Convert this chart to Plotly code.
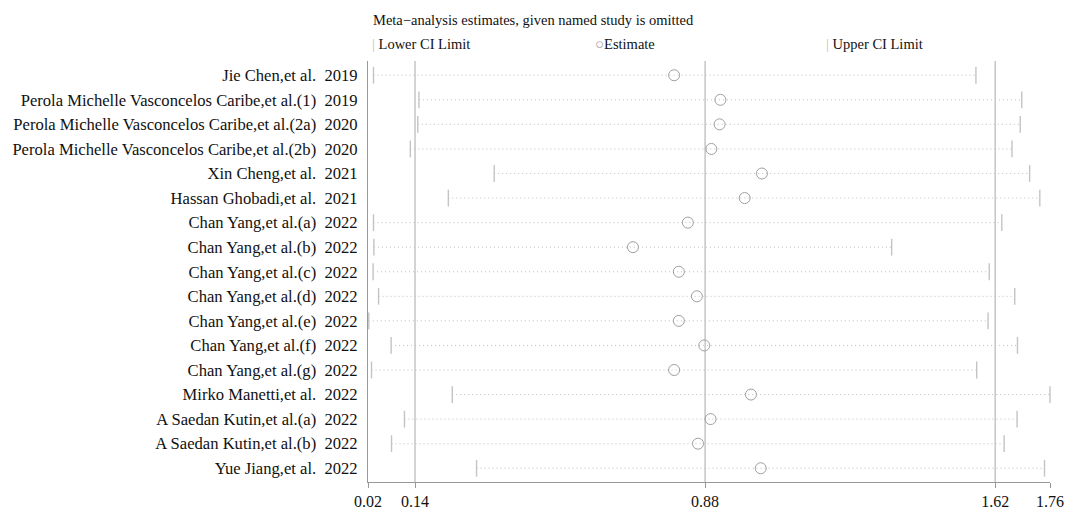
import plotly.graph_objects as go

studies = [
    "Jie Chen,et al.", "Perola Michelle Vasconcelos Caribe,et al.(1)",
    "Perola Michelle Vasconcelos Caribe,et al.(2a)", "Perola Michelle Vasconcelos Caribe,et al.(2b)",
    "Xin Cheng,et al.", "Hassan Ghobadi,et al.", "Chan Yang,et al.(a)", "Chan Yang,et al.(b)",
    "Chan Yang,et al.(c)", "Chan Yang,et al.(d)", "Chan Yang,et al.(e)", "Chan Yang,et al.(f)",
    "Chan Yang,et al.(g)", "Mirko Manetti,et al.", "A Saedan Kutin,et al.(a)",
    "A Saedan Kutin,et al.(b)", "Yue Jiang,et al.",
]
years = ["2019", "2019", "2020", "2020", "2021", "2021", "2022", "2022", "2022", "2022",
         "2022", "2022", "2022", "2022", "2022", "2022", "2022"]
lower = [0.034, 0.150, 0.147, 0.128, 0.342, 0.225, 0.034, 0.035, 0.033, 0.047,
         0.022, 0.079, 0.029, 0.235, 0.113, 0.080, 0.297]
estimate = [0.801, 0.919, 0.917, 0.896, 1.025, 0.981, 0.836, 0.696, 0.813, 0.859,
            0.813, 0.878, 0.801, 0.997, 0.894, 0.862, 1.022]
upper = [1.571, 1.688, 1.684, 1.663, 1.708, 1.734, 1.637, 1.356, 1.605, 1.670,
         1.602, 1.677, 1.573, 1.760, 1.676, 1.643, 1.746]
ref_lines = [0.14, 0.88, 1.62]
x_ticks = [0.02, 0.14, 0.88, 1.62, 1.76]

rows = list(range(len(studies)))
labels = [f"{s}\u00a0\u00a0{y}" for s, y in zip(studies, years)]

FONT = "'Liberation Serif', 'Times New Roman', Times, serif"

fig = go.Figure()

# dotted lines from lower to upper
lx, ly = [], []
for i in rows:
    lx += [lower[i], upper[i], None]
    ly += [i, i, None]
fig.add_trace(go.Scatter(x=lx, y=ly, mode="lines",
                         line=dict(color="#bdbdbd", width=1, dash="1px,3px"),
                         hoverinfo="skip", showlegend=False))

fig.add_trace(go.Scatter(x=lower, y=rows, mode="markers", name="Lower CI Limit",
                         marker=dict(symbol="line-ns-open", size=12, color="#c4c4c4",
                                     line=dict(color="#c4c4c4", width=1.4)),
                         cliponaxis=False, showlegend=False))
fig.add_trace(go.Scatter(x=upper, y=rows, mode="markers", name="Upper CI Limit",
                         marker=dict(symbol="line-ns-open", size=12, color="#c4c4c4",
                                     line=dict(color="#c4c4c4", width=1.4)),
                         cliponaxis=False, showlegend=False))
fig.add_trace(go.Scatter(x=estimate, y=rows, mode="markers", name="Estimate",
                         marker=dict(symbol="circle-open", size=11, color="#a0a0a0",
                                     line=dict(color="#a0a0a0", width=1)),
                         cliponaxis=False, showlegend=False))

for v in ref_lines:
    fig.add_shape(type="line", xref="x", yref="paper", x0=v, x1=v, y0=0, y1=1,
                  line=dict(color="#a8a8a8", width=1), layer="below")

# title & legend as annotations
fig.add_annotation(xref="paper", yref="paper", x=0, y=1, xshift=3, yshift=41,
                   xanchor="left", yanchor="middle", showarrow=False,
                   text="Meta\u2212analysis estimates, given named study is omitted",
                   font=dict(family=FONT, size=14.5, color="#111"))
legend_items = [
    (0.0, "<span style='color:#c0c0c0'>|</span> Lower CI Limit"),
    (0.3265, "<span style='color:#a0a0a0;font-size:15px'>\u25cb</span>Estimate"),
    (0.6655, "<span style='color:#c0c0c0'>|</span> Upper CI Limit"),
]
for xp, txt in legend_items:
    fig.add_annotation(xref="paper", yref="paper", x=xp, y=1, xshift=2, yshift=17,
                       xanchor="left", yanchor="middle", showarrow=False,
                       text=txt, font=dict(family=FONT, size=14.5, color="#111"))

fig.update_layout(
    width=1069, height=509,
    margin=dict(l=368, r=19, t=61, b=27, pad=0),
    paper_bgcolor="white", plot_bgcolor="white",
    font=dict(family=FONT, size=15, color="#111"),
    showlegend=False,
    xaxis=dict(range=[0.02, 1.76], tickvals=x_ticks, automargin=False,
               ticktext=[f"{v:.2f}" for v in x_ticks],
               showgrid=False, zeroline=False, showline=True, linecolor="#999",
               linewidth=1, ticks="outside", ticklen=5, tickcolor="#999",
               tickfont=dict(family=FONT, size=16, color="#111")),
    yaxis=dict(range=[16.56, -0.58], tickvals=rows, ticktext=labels, automargin=False,
               showgrid=False, zeroline=False, showline=True, linecolor="#999",
               linewidth=1, ticks="", ticklen=0, ticklabelstandoff=6,
               tickfont=dict(family=FONT, size=16.6, color="#111")),
)

fig.write_html("out.html")
